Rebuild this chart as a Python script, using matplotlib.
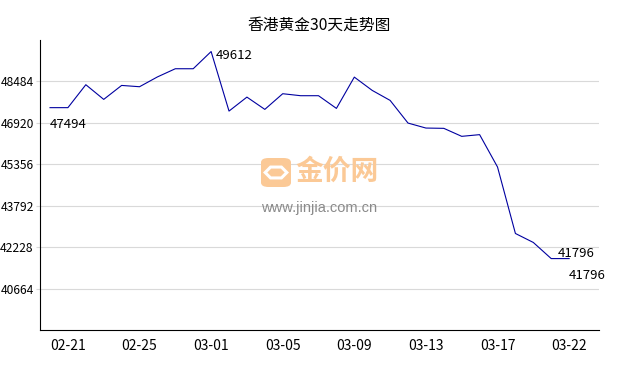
import numpy as np
import matplotlib
matplotlib.use('Agg')
import matplotlib.pyplot as plt
from matplotlib.patches import FancyBboxPatch, RegularPolygon

plt.rcParams['font.family'] = ['Noto Sans CJK SC', 'DejaVu Sans']

title = '香港黄金30天走势图'

# 30 days of prices
prices = [47494, 47494, 48360, 47806, 48333, 48284, 48654, 48963, 48963, 49612,
          47365, 47892, 47429, 48020, 47945, 47945, 47466, 48647, 48145, 47768,
          46912, 46724, 46713, 46411, 46475, 45254, 42744, 42405, 41796, 41796]
tick_idx = [1, 5, 9, 13, 17, 21, 25, 29]
tick_labels = ['02-21', '02-25', '03-01', '03-05', '03-09', '03-13', '03-17', '03-22']
y_ticks = [40664, 42228, 43792, 45356, 46920, 48484]

fig = plt.figure(figsize=(6.38, 3.70), dpi=100)
ax = fig.add_axes([40 / 638, 40 / 370, 559 / 638, 290 / 370])

x = np.arange(len(prices))
ax.plot(x, prices, color='#0000a0', lw=0.8, zorder=3)

ax.set_xlim(-0.56, 30.67)
ax.set_ylim(39100, 50048)
ax.set_yticks(y_ticks)
ax.set_yticklabels([str(v) for v in y_ticks])
ax.set_xticks(tick_idx)
ax.set_xticklabels(tick_labels)
ax.grid(axis='y', color='#d9d9d9', lw=0.8, zorder=0)
ax.tick_params(axis='y', length=3, color='#d9d9d9', labelsize=8.7, pad=1.5)
ax.tick_params(axis='x', length=0, labelsize=10, pad=6.5)
for s in ['top', 'right']:
    ax.spines[s].set_visible(False)
ax.spines['left'].set_color('black')
ax.spines['bottom'].set_color('black')

fig.text(319 / 638, 1 - 25 / 370, title, ha='center', va='center', fontsize=11.3)

# labels: first, max, min, last
imax = int(np.argmax(prices))
imin = int(np.argmin(prices))
ax.annotate(str(prices[0]), (0, prices[0]), xytext=(0, -12), textcoords='offset points',
            ha='left', va='center', fontsize=9.5)
ax.annotate(str(prices[imax]), (imax, prices[imax]), xytext=(3, -3), textcoords='offset points',
            ha='left', va='center', fontsize=9.5)
ax.annotate(str(prices[imin]), (imin, prices[imin]), xytext=(4.5, 4), textcoords='offset points',
            ha='left', va='center', fontsize=9.5)
ax.annotate(str(prices[-1]), (len(prices) - 1, prices[-1]), xytext=(0, -12), textcoords='offset points',
            ha='left', va='center', fontsize=9.5)

# watermark
logo = FancyBboxPatch((261 / 638, 1 - 187 / 370), 30 / 638, 29 / 370,
                      boxstyle='round,pad=0,rounding_size=0.012',
                      transform=fig.transFigure, fc='#fbc996', ec='none', zorder=1)
fig.patches.append(logo)
hexa = RegularPolygon((276 / 638, 1 - 172.5 / 370), 6, radius=0.017, orientation=np.pi / 6,
                      transform=fig.transFigure, fc='none', ec='white', lw=2.2, zorder=2)
fig.patches.append(hexa)
fig.text(337 / 638, 1 - 172 / 370, '金价网', ha='center', va='center', fontsize=20,
         color='#fbc996', fontweight='bold')
fig.text(319 / 638, 1 - 208 / 370, 'www.jinjia.com.cn', ha='center', va='center', fontsize=10.5,
         color='#8a8a8a', family=['Liberation Sans', 'DejaVu Sans'])

fig.savefig('out.png', dpi=100)
